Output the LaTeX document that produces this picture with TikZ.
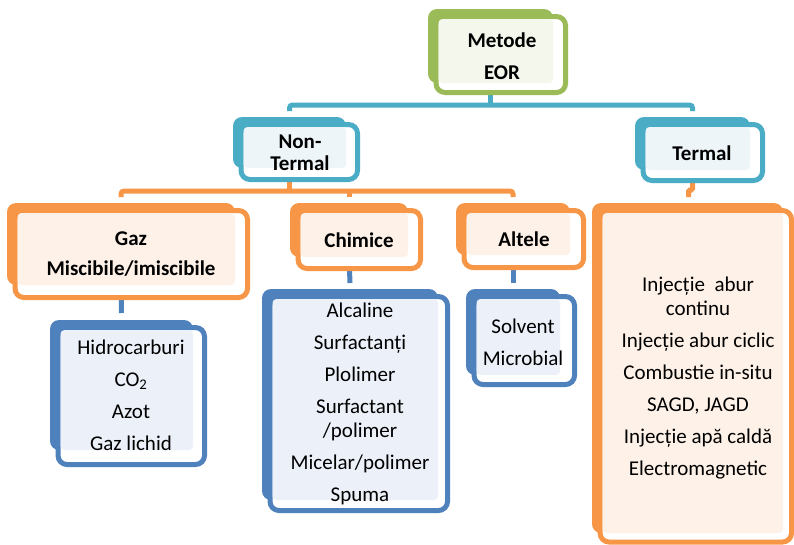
\documentclass[tikz,border=0pt]{standalone}
\usepackage{fontspec}
\setmainfont{Carlito}
\usetikzlibrary{calc,fit}
\pgfdeclarelayer{bg}
\pgfsetlayers{bg,main}
\definecolor{G}{HTML}{9BBB59}
\definecolor{GL}{HTML}{F3F7EC}
\definecolor{T}{HTML}{4BACC6}
\definecolor{TL}{HTML}{EDF5F9}
\definecolor{O}{HTML}{F79646}
\definecolor{OL}{HTML}{FDF1E8}
\definecolor{B}{HTML}{4F81BD}
\definecolor{BL}{HTML}{ECF0F8}
\tikzset{
 backbox/.style={fill=#1, rounded corners=9pt, inner sep=0pt, outer sep=0pt},
 frontbox/.style={draw=#1, line width=5pt, fill=white, rounded corners=9pt},
 lightbox/.style={fill=#1L, rounded corners=4pt},
 conn/.style={draw=#1, line width=5pt, rounded corners=3pt},
 head/.style={font=\fontsize{21}{24}\selectfont\bfseries, align=center, inner sep=0pt},
 item/.style={font=\fontsize{21}{24}\selectfont, align=center, inner sep=0pt},
}
\newcommand\layerbox[8]{%
 \node[backbox=#2, fit={(#3,#4) (#5,#6)}] (#1) {};
 \draw[frontbox=#2] ($(#1.north west)+(8,7.5)$) rectangle ($(#1.south east)+(#7,#8)$);
 \fill[lightbox=#2] ($(#1.north west)+(10.5,10)$) rectangle (#1.south east);
}
\begin{document}
\begin{tikzpicture}[x=1pt,y=-1pt]
\useasboundingbox (0,0) rectangle (794,544);
\layerbox{eor}{G}{428}{9}{553}{83}{12.5}{9.5}
\layerbox{nont}{T}{233}{117}{346}{168}{11.5}{11.5}
\layerbox{term}{T}{635}{117}{750}{170}{12.5}{10.5}
\layerbox{gaz}{O}{7}{203}{235}{285}{12.5}{12.5}
\layerbox{chim}{O}{290}{203}{408}{257}{12.5}{11.5}
\layerbox{alt}{O}{456}{203}{570}{255}{13.5}{12.5}
\layerbox{tlist}{O}{592}{203}{783}{533}{8.5}{9}
\layerbox{hidro}{B}{50}{320}{193}{450}{11.5}{14.5}
\layerbox{clist}{B}{262}{289}{438}{500}{9.5}{10.5}
\layerbox{solv}{B}{466}{289}{560}{375}{14.5}{9.5}

\node[head] (eor-t) at (502,56) {Metode\\[8pt]EOR};
\node[head] (nont-t) at (300,152.5) {Non-\\[-2pt]Termal};
\node[head] (term-t) at (702,153) {Termal};
\node[head] (gaz-t) at (131,254) {Gaz\\[6pt]Miscibile/imiscibile};
\node[head] (chim-t) at (359,240) {Chimice};
\node[head] (alt-t) at (524,239) {Altele};
\node[item] (hidro-t) at (131,395.5) {Hidrocarburi\\[8pt]CO\textsubscript{2}\\[8pt]Azot\\[8pt]Gaz lichid};
\node[item] (clist-t) at (360,404) {Alcaline\\[8pt]Surfactanți\\[8pt]Plolimer\\[8pt]Surfactant\\/polimer\\[8pt]Micelar/polimer\\[8pt]Spuma};
\node[item] (solv-t) at (523,342) {Solvent\\[8pt]Microbial};
\node[item] (tlist-t) at (698,378) {Injecție\ \ abur\\continu\\[8pt]Injecție abur ciclic\\[8pt]Combustie in-situ\\[8pt]SAGD, JAGD\\[8pt]Injecție apă caldă\\[8pt]Electromagnetic};

\begin{pgfonlayer}{bg}
\coordinate (tbar) at ($(nont.north)+(0,-12)$);
\coordinate (obar) at ($(chim.north)+(0,-12)$);
\draw[conn=T] (eor.south) -- (eor.south |- tbar);
\draw[conn=T] ($(nont.north)+(0,-6)$) |- (tbar -| term.north) -- ($(term.north)+(0,-6)$);
\draw[conn=O] (nont.south) -- (nont.south |- obar);
\draw[conn=O] ($(gaz.north)+(0,-6)$) |- (obar -| alt.north) -- ($(alt.north)+(0,-6)$);
\draw[conn=O] (obar -| chim.north) -- ($(chim.north)+(0,-6)$);
\draw[conn=O, rounded corners=1.5pt] (term.south) -- ++(0,20) -- ++(-4,0) -- ++(0,7);
\draw[conn=B] (gaz.south) -- ($(hidro.north)+(0,-7)$);
\draw[conn=B] (chim.south) -- ($(clist.north)+(0,-6)$);
\draw[conn=B] (alt.south) -- ($(solv.north)+(0,-6)$);
\end{pgfonlayer}
\end{tikzpicture}
\end{document}
